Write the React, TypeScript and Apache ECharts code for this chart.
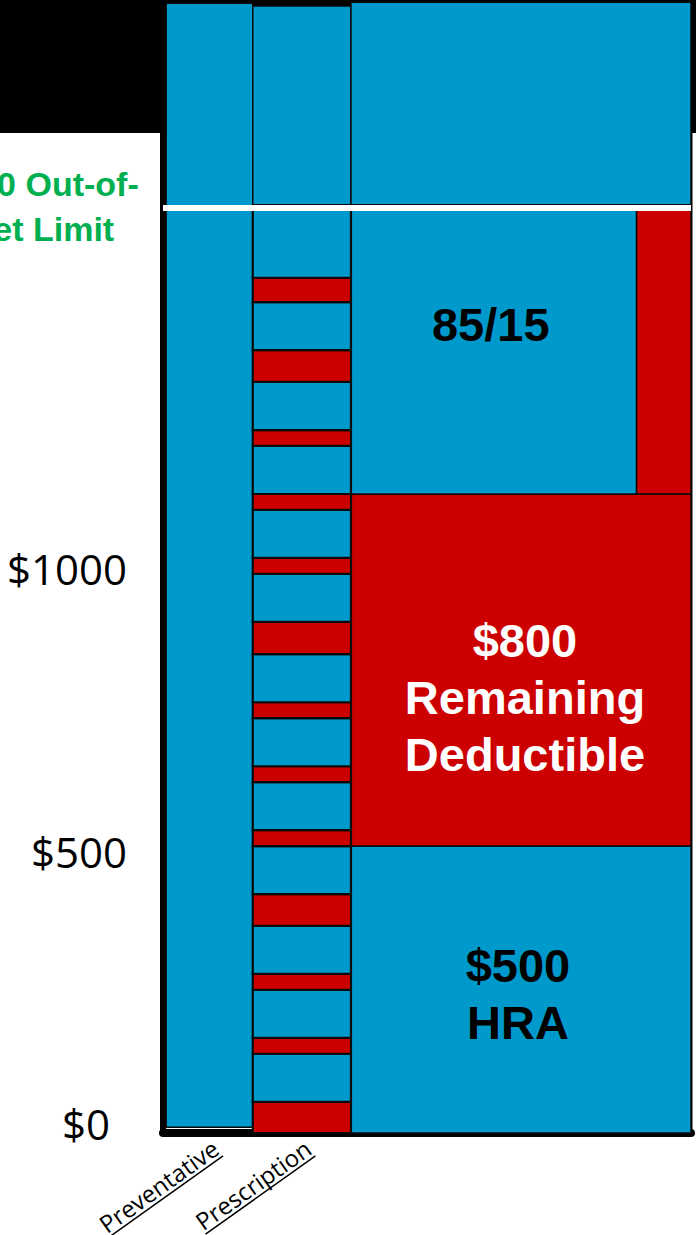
import React, { useEffect, useRef } from "react";
import * as echarts from "echarts";

// ---------- data ----------
const categories = ["Preventative", "Prescription"];
const yTickValues = [0, 500, 1000];
const yTickLabels = ["$0", "$500", "$1000"];
// column boundaries on a 0-100 horizontal scale
const columnEdges = [0.6, 17.0, 35.6, 100];
// Preventative bar (continuous)
const preventativeSpan = [10, 1996];
// Prescription stacked segments, bottom to top, alternating red / blue
const rxSegmentHeights = [55, 85, 28, 85, 28, 85, 56, 85, 28, 85, 28, 85, 28, 85, 57, 85, 28, 85, 28, 85, 28, 85, 56, 85, 43, 123];
const rxAboveLimit = [1640, 1991];
// Third column
const hraTop = 507;
const deductibleTop = 1129;
const coinsuranceTop = 1634;
const planShareFraction = 0.84;
const aboveLimitBox = [1640, 1998];
const outOfPocketLimit = 1634;
const boxLabels = ["85/15", "$800\nRemaining\nDeductible", "$500\nHRA"];
const limitLabel = "$2,000 Out-of-\nPocket Limit";

// ---------- styles ----------
const BLUE = "#0099CC";
const RED = "#CC0000";
const labelOffsets = [[-3, -27], [4, 27], [-3, 4]];
const labelColors = ["#000", "#fff", "#000"];

export default function App() {
  const ref = useRef<HTMLDivElement>(null);
  useEffect(() => {
    if (!ref.current) return;
    const chart = echarts.init(ref.current, null, { renderer: "svg" });
    const [c0, c1, c2, c3] = columnEdges;
    const split = c2 + (c3 - c2) * planShareFraction;

    const boxData = [
      [c0, c1, preventativeSpan[0], preventativeSpan[1], 0],
      [c1, c2, rxAboveLimit[0], rxAboveLimit[1], 0],
      [c2, c3, 0, hraTop, 0],
      [c2, c3, hraTop, deductibleTop, 1],
      [c2, split, deductibleTop, coinsuranceTop, 0],
      [split, c3, deductibleTop, coinsuranceTop, 1],
      [c2, c3, aboveLimitBox[0], aboveLimitBox[1], 0],
    ];
    let acc = 0;
    const rxData = rxSegmentHeights.map((h, i) => {
      const d = [c1, c2, acc, acc + h, i % 2 === 0 ? 1 : 0];
      acc += h;
      return d;
    });
    const labelBoxes = [
      [c2, split, deductibleTop, coinsuranceTop],
      [c2, c3, hraTop, deductibleTop],
      [c2, c3, 0, hraTop],
    ];
    const labelData = labelBoxes.map((b, i) => [(b[0] + b[1]) / 2, (b[2] + b[3]) / 2, i]);
    const catData = categories.map((_, i) => [(columnEdges[i] + columnEdges[i + 1]) / 2, 0, i]);

    const catFont = "24px 'Open Sans'";
    const ctx = document.createElement("canvas").getContext("2d")!;
    ctx.font = catFont;
    const catWidths = categories.map((c) => ctx.measureText(c).width);

    const rectRender = (lw: number) => (params: any, api: any) => {
      const p0 = api.coord([api.value(0), api.value(2)]);
      const p1 = api.coord([api.value(1), api.value(3)]);
      return {
        type: "rect",
        shape: { x: p0[0], y: p1[1], width: p1[0] - p0[0], height: p0[1] - p1[1] },
        style: { fill: api.value(4) === 1 ? RED : BLUE, stroke: "#0a0a0a", lineWidth: lw },
      };
    };

    chart.setOption({
      animation: false,
      backgroundColor: "#ffffff",
      grid: { left: 163, right: 5, top: 1, bottom: 102, show: true, borderColor: "#000", borderWidth: 3, backgroundColor: "transparent" },
      xAxis: {
        type: "value", min: 0, max: 100,
        axisLine: { show: true, onZero: false, lineStyle: { color: "#000", width: 8 } },
        axisTick: { show: false }, axisLabel: { show: false }, splitLine: { show: false },
      },
      yAxis: {
        type: "value", min: 0, max: 2000, interval: 500,
        axisLine: { show: true, lineStyle: { color: "#000", width: 6 } },
        axisTick: { show: false }, splitLine: { show: false },
        axisLabel: {
          margin: 36,
          formatter: (v: number) => {
            const i = yTickValues.indexOf(v);
            if (i < 0) return "";
            return v === 0 ? `{z|${yTickLabels[i]}}` : `{n|${yTickLabels[i]}}`;
          },
          rich: {
            z: { fontFamily: "Open Sans", fontSize: 42, color: "#000", padding: [0, 17, 20, 0] },
            n: { fontFamily: "Open Sans", fontSize: 42, color: "#000", padding: [3, 0, 0, 0] },
          },
        },
      },
      graphic: [
        { type: "rect", z: -100, shape: { x: 0, y: 0, width: 696, height: 133 }, style: { fill: "#000" } },
        {
          type: "text", x: -88, y: 161, z: 10,
          style: { text: limitLabel, font: "bold 34px 'Liberation Sans'", fill: "#00B050", lineHeight: 45, align: "left" },
        },
      ],
      series: [
        { type: "custom", name: "boxes", data: boxData, renderItem: rectRender(1.5), z: 2,
          markLine: {
            silent: true, symbol: "none", label: { show: false },
            lineStyle: { color: "#fff", width: 6, type: "solid" },
            data: [{ yAxis: outOfPocketLimit }],
          },
        },
        { type: "custom", name: "prescription", data: rxData, renderItem: rectRender(2.2), z: 2 },
        {
          type: "custom", name: "boxLabels", data: labelData, z: 5, clip: false,
          renderItem: (params: any, api: any) => {
            const i = api.value(2);
            const p = api.coord([api.value(0), api.value(1)]);
            return {
              type: "text", x: p[0] + labelOffsets[i][0], y: p[1] + labelOffsets[i][1],
              style: { text: boxLabels[i], fill: labelColors[i], font: "bold 47px 'Liberation Sans'", align: "center", verticalAlign: "middle", lineHeight: 57 },
            };
          },
        },
        {
          type: "custom", name: "categories", data: catData, z: 5, clip: false,
          renderItem: (params: any, api: any) => {
            const i = api.value(2);
            const p = api.coord([api.value(0), api.value(1)]);
            const w = catWidths[i];
            return {
              type: "group", x: p[0] + 13, y: p[1] + 22, rotation: (35.5 * Math.PI) / 180,
              children: [
                { type: "text", x: 0, y: 0, style: { text: categories[i], font: catFont, fill: "#000", align: "right", verticalAlign: "bottom" } },
                { type: "line", shape: { x1: -w, y1: 1, x2: 0, y2: 1 }, style: { stroke: "#000", lineWidth: 1.5 } },
              ],
            };
          },
        },
      ],
    });
    return () => chart.dispose();
  }, []);
  return <div ref={ref} style={{ position: "fixed", left: 0, top: 0, width: 696, height: 1235 }} />;
}
